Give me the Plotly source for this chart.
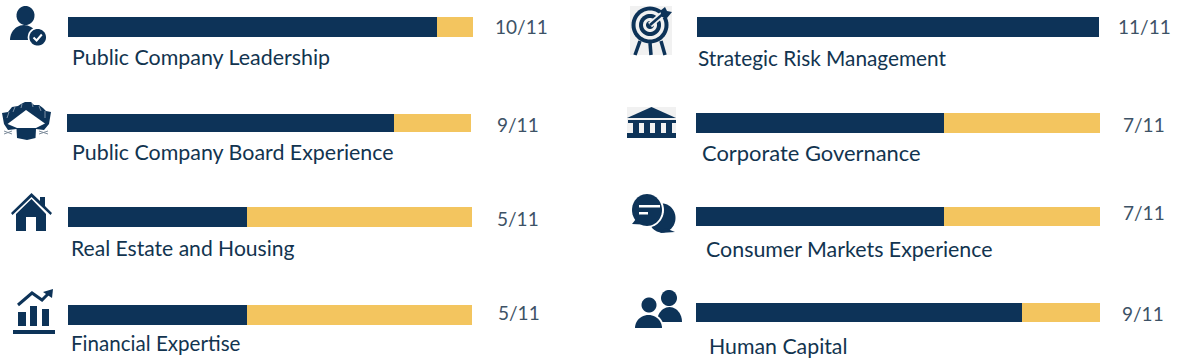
import numpy as np
import plotly.graph_objects as go

# ---- data ----
categories = ["Public Company Leadership", "Public Company Board Experience",
              "Real Estate and Housing", "Financial Expertise",
              "Strategic Risk Management", "Corporate Governance",
              "Consumer Markets Experience", "Human Capital"]
tick_labels = ["10/11", "9/11", "5/11", "5/11", "11/11", "7/11", "7/11", "9/11"]
filled = [10.03, 8.91, 4.87, 4.87, 11.0, 6.75, 6.75, 8.88]
total = 11

# ---- layout (pixels) ----
W, H = 1179, 363
bar_x0 = [68, 67, 68, 68, 697, 696, 696, 696]
bar_x1 = [473, 471, 472, 472, 1099, 1100, 1100, 1100]
bar_y0 = [17, 114, 207, 305, 17, 113, 207, 303]
bar_y1 = [37, 132, 227, 325, 37, 133, 226, 322]
label_x = [70, 70, 69, 69, 696, 700, 704, 707]
label_y = [57, 152, 247, 343, 57, 152, 249, 346]
label_size = [21.4, 21.4, 21.1, 20.6, 20.8, 21.9, 21.4, 21.3]
value_x = [521.5, 518, 517.5, 519, 1144.5, 1143.5, 1143.5, 1143]
value_y = [27, 124, 218, 312, 27, 124, 212, 313]

NAVY = "#0d3358"
GOLD = "#f3c55f"
TEXT = "#12344f"
VALUE = "#3d5266"
FONT = "Lato"

fig = go.Figure()
layout = {}
for i, name in enumerate(categories):
    n = i + 1
    xk, yk = f"xaxis{n}", f"yaxis{n}"
    xr, yr = ("x", "y") if n == 1 else (f"x{n}", f"y{n}")
    layout[xk] = dict(domain=[bar_x0[i] / W, bar_x1[i] / W], range=[0, total],
                      visible=False, fixedrange=True, anchor=yr)
    layout[yk] = dict(domain=[1 - bar_y1[i] / H, 1 - bar_y0[i] / H], visible=False,
                      fixedrange=True, anchor=xr)
    fig.add_trace(go.Bar(y=[name], x=[filled[i]], orientation="h", marker_color=NAVY,
                         marker_line_width=0, xaxis=xr, yaxis=yr, showlegend=False))
    fig.add_trace(go.Bar(y=[name], x=[total - filled[i]], orientation="h", marker_color=GOLD,
                         marker_line_width=0, xaxis=xr, yaxis=yr, showlegend=False))

# pixel overlay axes for decorative icons
layout["xaxis9"] = dict(domain=[0, 1], range=[0, W], visible=False, fixedrange=True, anchor="y9")
layout["yaxis9"] = dict(domain=[0, 1], range=[H, 0], visible=False, fixedrange=True, anchor="x9")
fig.add_trace(go.Scatter(x=[0], y=[0], mode="markers", marker_opacity=0, xaxis="x9", yaxis="y9",
                         showlegend=False, hoverinfo="skip"))

shapes = []


def poly(pts, color=NAVY):
    p = "M " + " L ".join(f"{x:.2f},{y:.2f}" for x, y in pts) + " Z"
    shapes.append(dict(type="path", path=p, xref="x9", yref="y9", fillcolor=color,
                       line=dict(width=0), layer="above"))


def ell(cx, cy, rx, ry=None, color=NAVY):
    ry = rx if ry is None else ry
    t = np.radians(np.linspace(0, 360, 49))
    poly(list(zip(cx + rx * np.cos(t), cy + ry * np.sin(t))), color)


def stroke(pts, width, color=NAVY):
    p = "M " + " L ".join(f"{x:.2f},{y:.2f}" for x, y in pts)
    shapes.append(dict(type="path", path=p, xref="x9", yref="y9",
                       line=dict(width=width, color=color), layer="above"))


def rect(x0, y0, x1, y1, color=NAVY):
    poly([(x0, y0), (x1, y0), (x1, y1), (x0, y1)], color)


def body(x0, x1, top, bot, color=NAVY):
    cx = (x0 + x1) / 2
    rx = (x1 - x0) / 2
    t = np.radians(np.linspace(180, 360, 25))
    poly(list(zip(cx + rx * np.cos(t), bot + (bot - top) * np.sin(t))), color)


# person with check
ell(25.5, 15.5, 9, 9.5)
body(10, 38, 25, 40)
ell(37.7, 37.3, 10, color="white")
ell(37.7, 37.3, 8.3)
stroke([(33.5, 37.5), (36.6, 40.5), (41.8, 34.5)], 2, "white")

# boardroom table
poly([(2, 113), (8, 112), (12, 107), (18, 106), (21, 104), (25, 102), (31, 102), (34, 105), (39, 105),
      (43, 108), (46, 111), (51, 112), (49, 124), (44, 130), (36, 129), (35.5, 138), (27, 140), (17, 138),
      (16.5, 129), (8, 130), (4, 124)])
poly([(26, 110), (7.5, 124), (17, 128), (36, 128), (45, 123.5)], "white")
for a, b in [((9, 112), (7, 118)), ((15, 107), (13, 112)), ((22, 104), (21, 108)), ((32, 103), (33, 107)),
             ((39, 106), (41, 111)), ((45, 111), (45, 118))]:
    stroke([a, b], 0.6, "#c8d2dc")
for a, b in [((4, 131), (12, 134)), ((4, 134), (12, 131)), ((39, 131), (48, 134)), ((39, 134), (48, 131))]:
    stroke([a, b], 1, "#7d8c9b")

# house
poly([(16, 231), (16, 214), (31.5, 199), (46, 214), (46, 231), (36, 231), (36, 217), (26, 217), (26, 231)])
poly([(11, 213), (31.5, 193), (40, 201), (40, 197), (45, 197), (45, 206), (52, 213), (50.5, 215),
      (31.5, 197), (12.5, 215)])

# financial chart
rect(18, 312, 26, 326)
rect(30, 306, 37, 326)
rect(42, 309, 49, 326)
stroke([(13, 332), (55, 332)], 4)
stroke([(18, 305), (32, 293), (42, 300), (50, 292)], 3)
poly([(43, 292), (53, 289), (52, 298)])

# target
rect(630, 6, 672, 55, "#f1f1f1")
stroke([(640, 41), (635, 55)], 3.5)
stroke([(650, 43), (651, 55)], 3.5)
stroke([(661, 41), (665, 55)], 3.5)
ell(650, 25, 18.5)
ell(650, 25, 14.5, color="#f1f1f1")
ell(650, 25, 11)
ell(650, 25, 7, color="#f1f1f1")
ell(650, 25, 4)
stroke([(650, 25), (664, 13)], 6, "#f1f1f1")
stroke([(650, 25), (664, 13)], 2.5)
poly([(660, 11), (665, 7), (667, 11), (672, 12), (667, 18), (662, 17)])

# bank
rect(627, 107, 676, 138, "#f1f1f1")
poly([(651.5, 107), (676, 118), (627, 118)])
rect(628, 120, 676, 123)
for cx in (633, 644, 655, 666):
    rect(cx, 123, cx + 6, 133)
rect(627, 133, 676, 138)

# chat bubbles
ell(662, 218, 13.5, 14.5)
poly([(665, 228), (675, 232), (660, 233)])
ell(647, 210, 17, 17.5, color="white")
ell(647, 210, 15, 16)
poly([(636, 219), (632, 224), (642, 224.5)])
rect(639, 205, 660, 207.5, "white")
rect(639, 212, 648, 214.5, "white")

# people
ell(669, 298, 8)
body(657, 682, 307, 322)
ell(649, 305, 10, color="white")
body(633, 664, 313, 328.5, "white")
ell(649, 305, 7.5)
body(635, 662, 315, 328)

# ---- text ----
ann = []
for i, name in enumerate(categories):
    ann.append(dict(text=name, x=label_x[i] / W, y=1 - label_y[i] / H, xref="paper", yref="paper",
                    xanchor="left", yanchor="middle", showarrow=False,
                    font=dict(family=FONT, size=label_size[i], color=TEXT)))
    ann.append(dict(text=tick_labels[i], x=value_x[i] / W, y=1 - value_y[i] / H, xref="paper",
                    yref="paper", xanchor="center", yanchor="middle", showarrow=False,
                    font=dict(family=FONT, size=19, color=VALUE)))

fig.update_layout(width=W, height=H, margin=dict(l=0, r=0, t=0, b=0), barmode="stack", bargap=0,
                  paper_bgcolor="white", plot_bgcolor="rgba(0,0,0,0)", shapes=shapes, annotations=ann,
                  **layout)
fig.write_html("out.html", config={"displayModeBar": False},
               post_script="document.body.style.margin='0';document.body.style.overflow='hidden';")
